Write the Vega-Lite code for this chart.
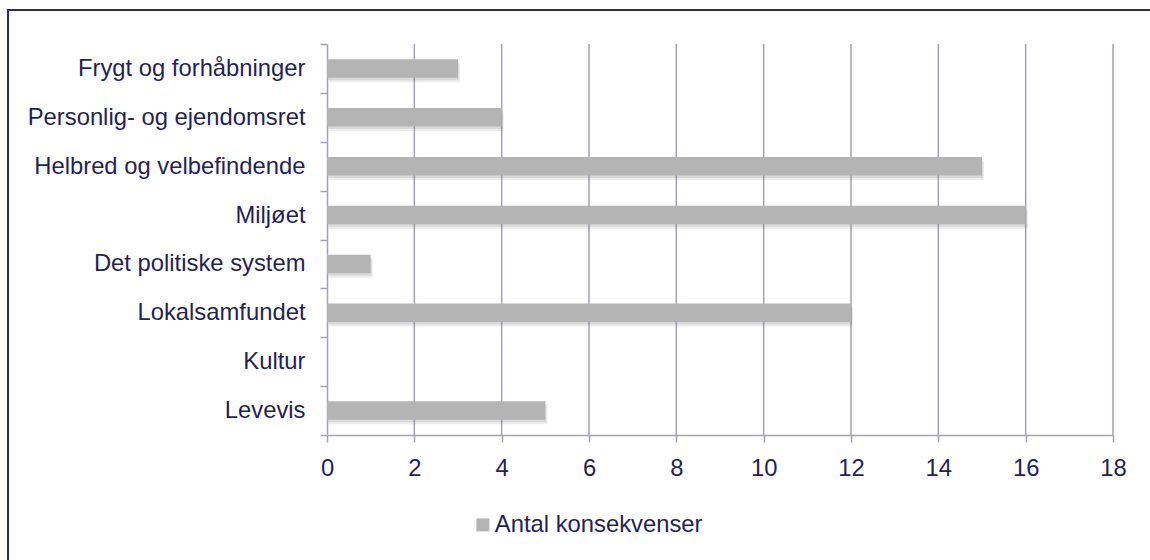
{
  "$schema": "https://vega.github.io/schema/vega-lite/v6.json",
  "width": 1150,
  "height": 560,
  "autosize": "none",
  "padding": {"left": 8, "top": 10, "right": 0, "bottom": 0},
  "background": "white",
  "config": {
    "font": "Liberation Sans",
    "view": {"stroke": "#2d2a6b", "strokeWidth": 2},
    "axisX": {
      "title": null,
      "orient": "bottom",
      "offset": -135,
      "tickSize": 7,
      "tickColor": "#a3a1b4",
      "tickWidth": 1.5,
      "domainColor": "#a3a1b4",
      "domainWidth": 1.5,
      "grid": false,
      "labelFlush": false,
      "labelFont": "Liberation Sans",
      "labelFontSize": 23.8,
      "labelColor": "#231f5c",
      "labelPadding": 14
    }
  },
  "datasets": {
    "grid": [
      {"t": 2}, {"t": 4}, {"t": 6}, {"t": 8}, {"t": 10},
      {"t": 12}, {"t": 14}, {"t": 16}, {"t": 18}
    ],
    "konsekvenser": [
      {"kategori": "Frygt og forhåbninger", "antal": 3, "serie": "Antal konsekvenser"},
      {"kategori": "Personlig- og ejendomsret", "antal": 4, "serie": "Antal konsekvenser"},
      {"kategori": "Helbred og velbefindende", "antal": 15, "serie": "Antal konsekvenser"},
      {"kategori": "Miljøet", "antal": 16, "serie": "Antal konsekvenser"},
      {"kategori": "Det politiske system", "antal": 1, "serie": "Antal konsekvenser"},
      {"kategori": "Lokalsamfundet", "antal": 12, "serie": "Antal konsekvenser"},
      {"kategori": "Kultur", "antal": 0, "serie": "Antal konsekvenser"},
      {"kategori": "Levevis", "antal": 5, "serie": "Antal konsekvenser"}
    ]
  },
  "layer": [
    {
      "data": {"name": "grid"},
      "mark": {"type": "rule", "color": "#a3a1b4", "strokeWidth": 1.5},
      "encoding": {
        "x": {
          "field": "t",
          "type": "quantitative",
          "title": null,
          "scale": {"domain": [0, 18], "range": [319, 1105], "nice": false, "zero": true},
          "axis": {"values": [0, 2, 4, 6, 8, 10, 12, 14, 16, 18], "format": "d", "title": null}
        },
        "y": {
          "datum": 0,
          "type": "quantitative",
          "scale": {"domain": [0, 1], "range": [34, 425], "nice": false, "zero": false},
          "axis": null
        },
        "y2": {"datum": 1}
      }
    },
    {
      "data": {"name": "konsekvenser"},
      "encoding": {
        "y": {
          "field": "kategori",
          "type": "nominal",
          "sort": null,
          "scale": {"range": [34, 425], "padding": 0},
          "axis": {
            "title": null,
            "orient": "left",
            "offset": -319,
            "tickBand": "extent",
            "tickSize": 7,
            "tickColor": "#a3a1b4",
            "tickWidth": 1.5,
            "domainColor": "#a3a1b4",
            "domainWidth": 1.5,
            "labelFont": "Liberation Sans",
            "labelFontSize": 23.8,
            "labelColor": "#231f5c",
            "labelPadding": 15,
            "labelLimit": 0,
            "grid": false
          }
        },
        "x": {
          "field": "antal",
          "type": "quantitative",
          "title": null,
          "scale": {"domain": [0, 18], "range": [319, 1105], "nice": false, "zero": true},
          "axis": {"values": [0, 2, 4, 6, 8, 10, 12, 14, 16, 18], "format": "d", "title": null}
        }
      },
      "layer": [
        {
          "mark": {"type": "bar", "color": "#6e6e6e", "opacity": 0.12, "xOffset": 2, "yOffset": 4.5, "height": {"band": 0.38}}
        },
        {
          "mark": {"type": "bar", "color": "#6e6e6e", "opacity": 0.16, "xOffset": 1, "yOffset": 2.5, "height": {"band": 0.38}}
        },
        {
          "mark": {"type": "bar", "height": {"band": 0.38}},
          "encoding": {
            "color": {
              "field": "serie",
              "type": "nominal",
              "scale": {"range": ["#b4b4b4"]},
              "legend": {
                "title": null,
                "orient": "none",
                "legendX": 463,
                "legendY": 503,
                "padding": 0,
                "symbolType": "square",
                "symbolSize": 169,
                "symbolStrokeWidth": 0,
                "labelFont": "Liberation Sans",
                "labelFontSize": 23.8,
                "labelColor": "#231f5c",
                "labelOffset": 0,
                "labelLimit": 0
              }
            }
          }
        }
      ]
    }
  ],
  "resolve": {"scale": {"y": "independent"}}
}
